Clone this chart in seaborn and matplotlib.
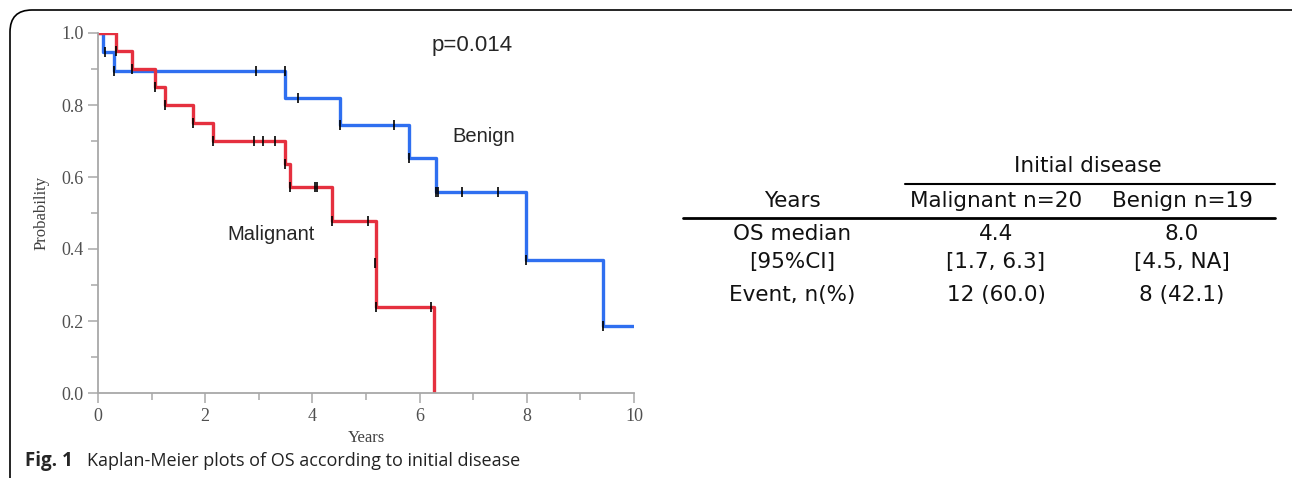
import pandas as pd
import matplotlib.pyplot as plt
import matplotlib.patches as mpatches
import matplotlib.transforms as mtransforms
from matplotlib.lines import Line2D
from matplotlib.ticker import MultipleLocator
import seaborn as sns

# Kaplan-Meier step data
benign_time = [0, 0.09, 0.29, 3.49, 4.51, 5.81, 6.30, 7.98, 9.42, 10.0]
benign_surv = [1.0, 0.947, 0.894, 0.820, 0.745, 0.654, 0.559, 0.369, 0.186, 0.186]
malig_time = [0, 0.34, 0.63, 1.07, 1.25, 1.77, 2.14, 3.49, 3.59, 4.36, 5.19, 6.27]
malig_surv = [1.0, 0.95, 0.90, 0.85, 0.80, 0.75, 0.70, 0.636, 0.573, 0.477, 0.239, 0.0]

# censoring marks
benign_cens_t = [0.13, 0.29, 2.95, 3.49, 3.73, 4.51, 5.53, 5.81, 6.30, 6.35, 6.80, 7.47, 7.98, 9.42]
benign_cens_s = [0.947, 0.894, 0.894, 0.894, 0.820, 0.745, 0.745, 0.654, 0.559, 0.559, 0.559, 0.559, 0.369, 0.186]
malig_cens_t = [0.34, 0.63, 1.07, 1.25, 1.77, 2.14, 2.91, 3.08, 3.30, 3.49, 3.59, 4.04, 4.08, 4.36, 5.04, 5.17, 5.19, 6.22]
malig_cens_s = [0.95, 0.90, 0.85, 0.80, 0.75, 0.70, 0.70, 0.70, 0.70, 0.636, 0.573, 0.573, 0.573, 0.477, 0.477, 0.36, 0.239, 0.239]

# table
tbl_cols = ['Years', 'Malignant n=20', 'Benign n=19']
tbl_rows = [['OS median', '4.4', '8.0'],
            ['[95%CI]', '[1.7, 6.3]', '[4.5, NA]'],
            ['Event, n(%)', '12 (60.0)', '8 (42.1)']]

RED = '#e5303f'
BLUE = '#2f6ff0'
W, H = 1292, 478

km = pd.concat([
    pd.DataFrame({'time': benign_time, 'surv': benign_surv, 'group': 'Benign'}),
    pd.DataFrame({'time': malig_time, 'surv': malig_surv, 'group': 'Malignant'}),
])
cens = pd.concat([
    pd.DataFrame({'time': benign_cens_t, 'surv': benign_cens_s, 'group': 'Benign'}),
    pd.DataFrame({'time': malig_cens_t, 'surv': malig_cens_s, 'group': 'Malignant'}),
])

sns.set_style("ticks")
fig = plt.figure(figsize=(W / 100, H / 100), dpi=100)
ax = fig.add_axes([98 / W, 1 - 393 / H, 536 / W, 360 / H])

sns.lineplot(data=km, x='time', y='surv', hue='group', hue_order=['Benign', 'Malignant'],
             palette={'Benign': BLUE, 'Malignant': RED}, drawstyle='steps-post',
             estimator=None, sort=False, linewidth=2.4, legend=False, ax=ax)
sns.scatterplot(data=cens, x='time', y='surv', marker='|', color='black', s=55,
                linewidth=1.2, legend=False, ax=ax, zorder=5)

ax.set_xlim(0, 10)
ax.set_ylim(0, 1.0)
ax.xaxis.set_major_locator(MultipleLocator(2))
ax.xaxis.set_minor_locator(MultipleLocator(1))
ax.yaxis.set_major_locator(MultipleLocator(0.2))
ax.yaxis.set_minor_locator(MultipleLocator(0.1))
ax.yaxis.set_major_formatter(plt.FuncFormatter(lambda v, p: f'{v:.1f}'))
for s in ['top', 'right']:
    ax.spines[s].set_visible(False)
for s in ['left', 'bottom']:
    ax.spines[s].set_color('#a8a8a8')
    ax.spines[s].set_linewidth(1.3)
ax.tick_params(which='major', length=7, color='#a8a8a8', width=1.1,
               labelcolor='#505050', labelsize=13, labelfontfamily='Liberation Serif')
ax.tick_params(which='minor', length=5, color='#a8a8a8', width=1.1)
ax.set_xlabel('Years', family='Liberation Serif', fontsize=12, color='#404040', labelpad=4)
ax.set_ylabel('Probability', family='Liberation Serif', fontsize=12, color='#404040', labelpad=8)

lab = dict(ha='center', va='center', fontsize=14.5, family='Liberation Sans')
fig.text(472 / W, 1 - 45 / H, 'p=0.014', **dict(lab, fontsize=16))
fig.text(484 / W, 1 - 137 / H, 'Benign', **lab)
fig.text(271 / W, 1 - 234 / H, 'Malignant', **lab)

# caption
fig.text(25 / W, 1 - 461 / H, 'Fig. 1', ha='left', va='center', fontsize=13.5,
         family='Open Sans', weight='bold')
fig.text(87 / W, 1 - 461 / H, 'Kaplan-Meier plots of OS according to initial disease',
         ha='left', va='center', fontsize=13, family='Open Sans', color='#222222')

# frame (rounded, runs off right and bottom edges)
frame = mpatches.FancyBboxPatch((10, -40), 1306, 508, boxstyle='round,pad=0,rounding_size=22',
                                fill=False, edgecolor='black', linewidth=1.2,
                                transform=mtransforms.IdentityTransform())
fig.add_artist(frame)

# table
col_x = [792, 996, 1182]
tfont = dict(family='DejaVu Sans', fontsize=15.5, ha='center', va='center', color='#111111')
fig.text(1088 / W, 1 - 166 / H, 'Initial disease', **tfont)
fig.add_artist(Line2D([905 / W, 1275 / W], [1 - 184 / H] * 2, color='black', lw=1.5))
for cx, lab_ in zip(col_x, tbl_cols):
    fig.text(cx / W, 1 - 201 / H, lab_, **tfont)
fig.add_artist(Line2D([683 / W, 1275 / W], [1 - 218 / H] * 2, color='black', lw=2))
for ry, row in zip([234, 262, 295], tbl_rows):
    for cx, val in zip(col_x, row):
        fig.text(cx / W, 1 - ry / H, val, **tfont)

fig.savefig('out.png', dpi=100)
